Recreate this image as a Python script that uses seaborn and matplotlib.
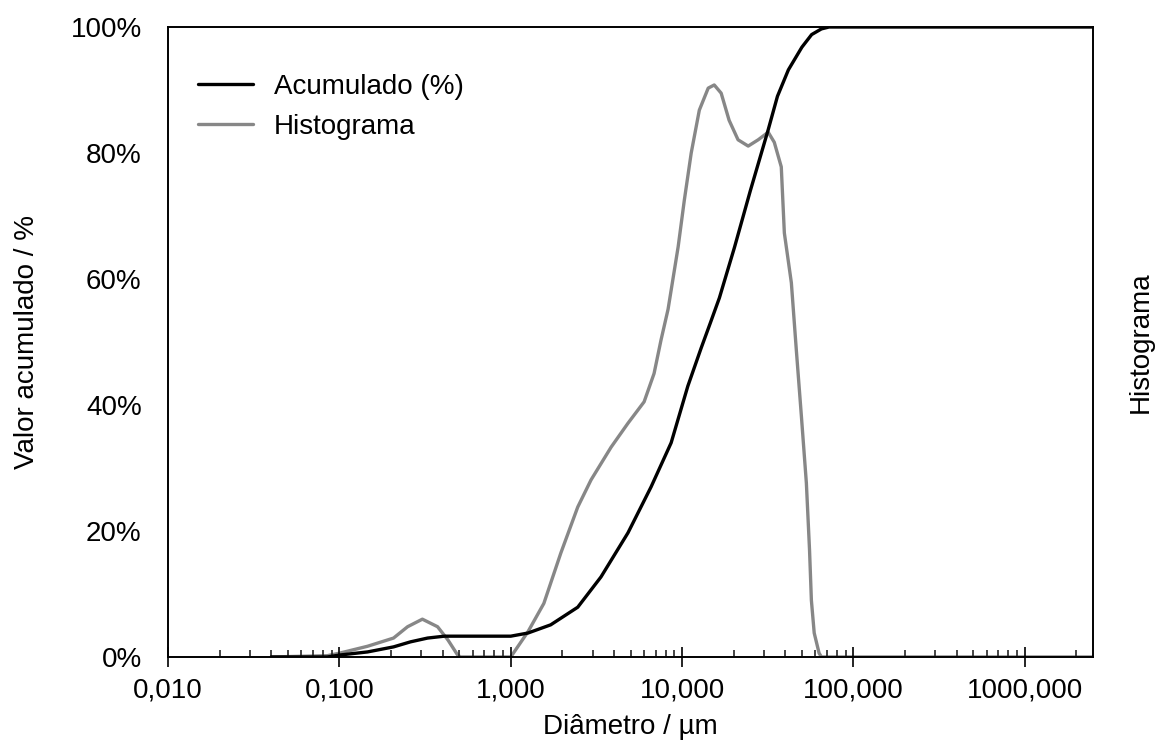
import numpy as np
import pandas as pd
import matplotlib
matplotlib.use("Agg")
import matplotlib.pyplot as plt
from matplotlib.ticker import FuncFormatter, LogLocator, NullFormatter, PercentFormatter
import seaborn as sns

# Particle size distribution
diam_cum = [0.04, 0.085, 0.1, 0.146, 0.207, 0.26, 0.327, 0.41, 0.6, 1.0, 1.26,
            1.71, 2.46, 3.36, 4.83, 6.59, 8.63, 10.8, 12.9, 14.6, 16.5, 20.2, 25.0,
            31.8, 36.0, 41.7, 50.0, 57.0, 65.0, 72.0, 2500.0]
acumulado = [0.0, 0.0, 0.3, 0.8, 1.6, 2.4, 3.0, 3.3, 3.3, 3.3, 3.8,
             5.1, 7.9, 12.7, 19.7, 27.0, 34.0, 43.0, 49.0, 53.0, 57.0, 65.0, 74.0,
             83.7, 89.0, 93.2, 96.8, 98.8, 99.7, 100.0, 100.0]

diam_hist = [0.04, 0.085, 0.1, 0.146, 0.207, 0.25, 0.305, 0.374, 0.43, 0.49, 0.51,
             1.0, 1.26, 1.56, 1.96, 2.46, 2.94, 3.85, 4.83, 6.0, 6.86, 7.53,
             8.28, 9.48, 10.3, 11.3, 12.6, 14.2, 15.4, 16.9, 18.8, 21.2, 24.3,
             27.8, 31.8, 34.5, 37.9, 39.5, 43.4, 46.4, 49.7, 53.1, 55.4, 56.8,
             59.0, 63.0, 65.0, 2500.0]
histograma = [0.0, 0.2, 0.6, 1.7, 3.0, 4.8, 6.0, 4.8, 2.7, 0.3, 0.0,
              0.0, 4.0, 8.5, 16.5, 23.8, 28.1, 33.3, 37.1, 40.5, 45.0, 50.3,
              55.2, 65.1, 72.5, 80.0, 86.8, 90.3, 90.8, 89.5, 85.2, 82.1, 81.1,
              82.1, 83.3, 81.7, 77.8, 67.3, 59.4, 48.7, 38.1, 27.6, 17.0, 9.0,
              3.8, 0.6, 0.0, 0.0]

df_cum = pd.DataFrame({"d": diam_cum, "v": acumulado})
df_hist = pd.DataFrame({"d": diam_hist, "v": histograma})

sns.set_theme(style="white")
plt.rcParams["font.family"] = ["Liberation Sans", "DejaVu Sans"]
plt.rcParams["text.color"] = "black"
plt.rcParams["axes.labelcolor"] = "black"
fs = 20

fig = plt.figure(figsize=(11.58, 7.42), dpi=100)
ax = fig.add_axes([0.1451, 0.1146, 0.7988, 0.849])
ax2 = ax.twinx()

sns.lineplot(data=df_hist, x="d", y="v", ax=ax2, color="#878787", lw=2.4,
             label="Histograma", legend=False)
sns.lineplot(data=df_cum, x="d", y="v", ax=ax, color="black", lw=2.4,
             label="Acumulado (%)", legend=False)
for ln in ax.lines + ax2.lines:
    ln.set_solid_joinstyle("round")
    ln.set_solid_capstyle("round")

ax.set_xscale("log")
ax.set_xlim(0.01, 2500)
ax.set_ylim(0, 100)
ax2.set_ylim(0, 100)
ax.set_zorder(ax2.get_zorder() + 1)
ax.patch.set_visible(False)

ax.yaxis.set_major_locator(plt.MultipleLocator(20))
ax.yaxis.set_major_formatter(PercentFormatter(decimals=0))
ax.tick_params(axis="y", length=0, pad=19, labelsize=fs, colors="black")
ax.xaxis.set_major_locator(LogLocator(base=10, numticks=20))
ax.xaxis.set_minor_locator(LogLocator(base=10, subs=np.arange(2, 10), numticks=20))
ax.xaxis.set_minor_formatter(NullFormatter())
ax.xaxis.set_major_formatter(FuncFormatter(lambda v, p: f"{v:.3f}".replace(".", ",")))
ax.tick_params(axis="x", which="major", direction="inout", length=14, width=1.2,
               pad=8, labelsize=fs, colors="black", bottom=True)
ax.tick_params(axis="x", which="minor", direction="in", length=5, width=1.2,
               bottom=True)
ax2.set_yticks([])

for a in (ax, ax2):
    for s in a.spines.values():
        s.set_visible(True)
        s.set_color("black")
        s.set_linewidth(1.2)

ax.set_xlabel("Diâmetro / µm", fontsize=fs, labelpad=7)
ax.set_ylabel("Valor acumulado / %", fontsize=fs, labelpad=22)
ax2.set_ylabel("Histograma", fontsize=fs, labelpad=25)

h1, l1 = ax.get_legend_handles_labels()
h2, l2 = ax2.get_legend_handles_labels()
ax.legend(h1 + h2, l1 + l2, loc="upper left", bbox_to_anchor=(0.032, 0.926),
          frameon=False, fontsize=fs, handlelength=2.0, handletextpad=0.75,
          labelspacing=0.5, borderpad=0, borderaxespad=0)

fig.savefig("out.png", dpi=100)
